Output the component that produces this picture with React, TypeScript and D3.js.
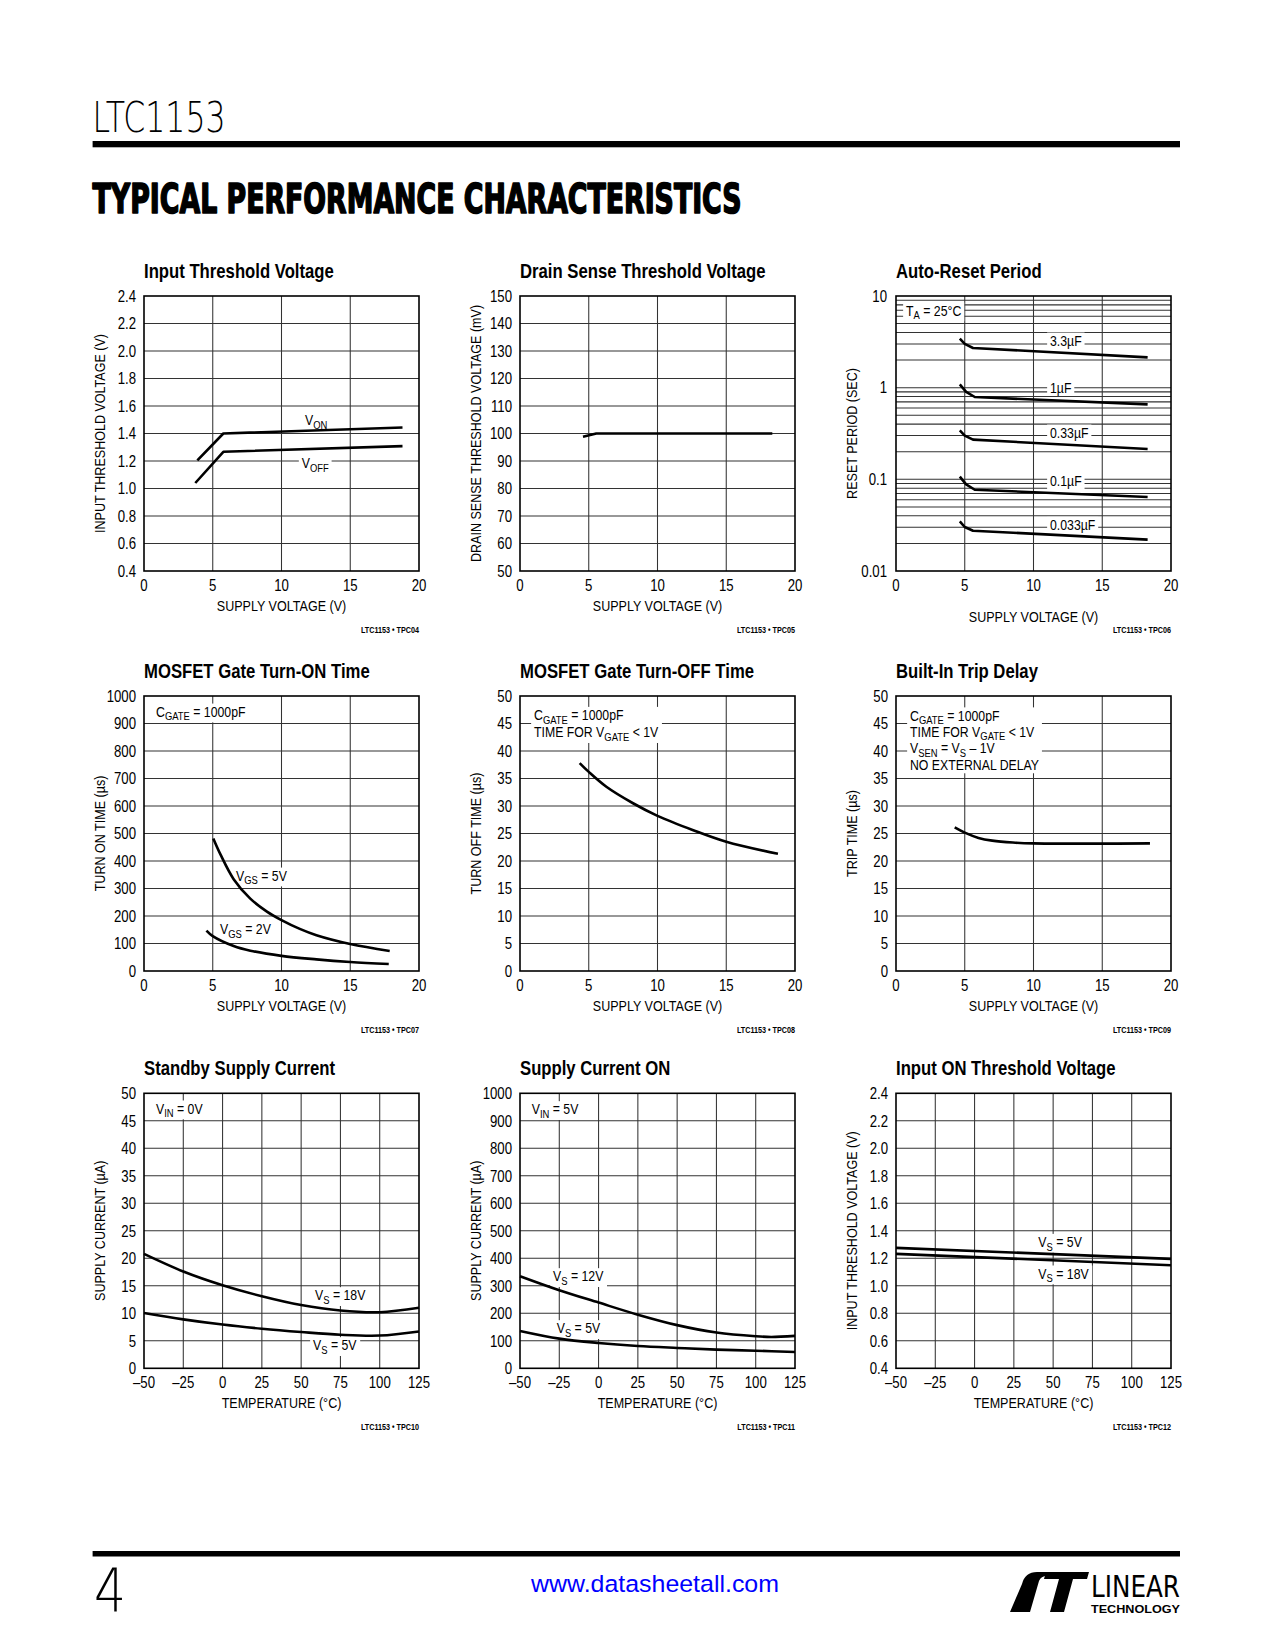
import React, { useLayoutEffect, useRef, useState } from "react";
import * as d3 from "d3";

const SANS = "'Liberation Sans', Arial, Helvetica, sans-serif";
const SX = 0.82; // horizontal condensing (narrow face)

type Pt = [number, number];

// ---------------- DATA ----------------
const supplyTicks = [0, 5, 10, 15, 20];
const supplyLabels = ["0", "5", "10", "15", "20"];
const tempTicks = [-50, -25, 0, 25, 50, 75, 100, 125];
const tempLabels = ["–50", "–25", "0", "25", "50", "75", "100", "125"];

// Input Threshold Voltage
const thrTicks = [0.4, 0.6, 0.8, 1.0, 1.2, 1.4, 1.6, 1.8, 2.0, 2.2, 2.4];
const thrLabels = ["0.4", "0.6", "0.8", "1.0", "1.2", "1.4", "1.6", "1.8", "2.0", "2.2", "2.4"];
const thrVon: Pt[] = [[3.88, 1.205], [5.77, 1.4], [18.8, 1.444]];
const thrVoff: Pt[] = [[3.73, 1.04], [5.77, 1.267], [18.8, 1.308]];

// Drain Sense Threshold Voltage
const drainTicks = [50, 60, 70, 80, 90, 100, 110, 120, 130, 140, 150];
const drainLabels = drainTicks.map(String);
const drainSense: Pt[] = [[4.58, 98.8], [5.55, 100], [18.35, 100]];

// Auto-Reset Period (log)
const resetTicks = [0.01, 0.1, 1, 10];
const resetLabels = ["0.01", "0.1", "1", "10"];
const reset3u3: Pt[] = [[4.64, 3.42], [5.0, 3.0], [5.6, 2.71], [18.3, 2.14]];
const reset1u: Pt[] = [[4.64, 1.087], [5.1, 0.9], [5.73, 0.791], [18.3, 0.658]];
const reset0u33: Pt[] = [[4.64, 0.342], [5.0, 0.3], [5.6, 0.271], [18.3, 0.214]];
const reset0u1: Pt[] = [[4.64, 0.107], [5.1, 0.088], [5.73, 0.077], [18.3, 0.0641]];
const reset0u033: Pt[] = [[4.64, 0.0348], [5.0, 0.0302], [5.6, 0.0275], [18.3, 0.022]];

// MOSFET Gate Turn-ON Time
const onTicks = [0, 100, 200, 300, 400, 500, 600, 700, 800, 900, 1000];
const onLabels = onTicks.map(String);
const turnOn5: Pt[] = [[5.04, 482], [5.56, 424], [6.52, 334], [7.73, 263], [8.94, 216], [10, 185], [11.33, 153], [12.54, 130], [15, 98], [17.87, 73]];
const turnOn2: Pt[] = [[4.54, 147], [5, 127], [6.52, 91], [7.73, 74], [10, 55], [12.54, 42.4], [15, 33], [17.8, 25.5]];

// MOSFET Gate Turn-OFF Time
const offTicks = [0, 5, 10, 15, 20, 25, 30, 35, 40, 45, 50];
const offLabels = offTicks.map(String);
const turnOff: Pt[] = [[4.34, 37.8], [5, 36.2], [6.28, 33.5], [8.22, 30.5], [10, 28.2], [12.6, 25.6], [15, 23.5], [18.76, 21.3]];

// Built-In Trip Delay
const tripDelay: Pt[] = [[4.27, 26.1], [5, 25.15], [6, 24.2], [7, 23.7], [8.5, 23.35], [10, 23.2], [18.47, 23.2]];

// Standby Supply Current
const standby18: Pt[] = [[-50, 20.8], [-25, 17.6], [0, 15.1], [25, 13.1], [50, 11.5], [75, 10.5], [100, 10.2], [125, 11]];
const standby5: Pt[] = [[-50, 10.07], [-25, 8.9], [0, 7.95], [25, 7.2], [50, 6.6], [75, 6.1], [100, 5.95], [125, 6.7]];

// Supply Current ON
const supOn12: Pt[] = [[-50, 335], [-25, 284], [0, 239], [25, 195], [50, 157], [75, 130], [100, 116.5], [110, 114], [125, 118]];
const supOn5: Pt[] = [[-50, 136], [-25, 108], [0, 92], [25, 81], [50, 74], [75, 68], [100, 64], [125, 59.5]];

// Input ON Threshold Voltage
const inOn5: Pt[] = [[-50, 1.276], [125, 1.196]];
const inOn18: Pt[] = [[-50, 1.232], [125, 1.15]];

// ---------------- RENDERING ----------------
interface Ann { x: number; y: number; lines: string[]; bg?: boolean; lh?: number; }
interface Series { pts: Pt[]; smooth?: boolean; }
interface Cfg {
  left: number; top: number; title: string;
  xDomain: [number, number]; xTicks: number[]; xLabels: string[]; xTitle: string; xTitleDy?: number;
  yDomain: [number, number]; yTicks: number[]; yLabels: string[]; yTitle: string; log?: boolean;
  series: Series[]; anns: Ann[]; foot: string;
}

const W = 275, H = 275;
const SUB = 11.5, SUBDY = 3.5;
const TICK = 16.5, TICKSX = 0.8, AXT = 15.3;

function NT(p: { x: number; y: number; size: number; anchor?: string; weight?: any; rotate?: number; sx?: number; children: any; fill?: string }) {
  const rot = p.rotate ? ` rotate(${p.rotate})` : "";
  return (
    <text
      transform={`translate(${p.x},${p.y})${rot} scale(${p.sx ?? SX},1)`}
      textAnchor={p.anchor || "start"}
      fontFamily={SANS}
      fontSize={p.size}
      fontWeight={p.weight || "normal"}
      fill={p.fill || "#000"}
    >
      {p.children}
    </text>
  );
}

function rich(s: string) {
  const parts = s.split(/_\{([^}]*)\}/);
  const out: any[] = [];
  let lowered = false;
  parts.forEach((p, i) => {
    if (i % 2 === 1) {
      out.push(<tspan key={i} fontSize={SUB} dy={SUBDY}>{p}</tspan>);
      lowered = true;
    } else if (p) {
      out.push(<tspan key={i} dy={lowered ? -SUBDY : 0}>{p}</tspan>);
      lowered = false;
    }
  });
  return out;
}

function Label({ a }: { a: Ann }) {
  const ref = useRef<SVGTextElement>(null);
  const [bb, setBb] = useState<any>(null);
  useLayoutEffect(() => {
    if (ref.current) {
      const b = ref.current.getBBox();
      setBb({ x: b.x, y: b.y, w: b.width, h: b.height });
    }
  }, []);
  const lh = a.lh ?? 17;
  return (
    <g transform={`translate(${a.x},${a.y}) scale(${SX},1)`}>
      {a.bg && bb && <rect x={bb.x - 3.5} y={bb.y} width={bb.w + 7} height={bb.h} fill="#fff" />}
      <text ref={ref} fontFamily={SANS} fontSize={15} fill="#000" style={{ whiteSpace: "pre" }}>
        {a.lines.map((ln, i) => (
          <tspan key={i} x={0} y={i * lh}>{rich(ln)}</tspan>
        ))}
      </text>
    </g>
  );
}

function Chart({ c }: { c: Cfg }) {
  const x = d3.scaleLinear().domain(c.xDomain).range([0, W]);
  const y: any = c.log
    ? d3.scaleLog().domain(c.yDomain).range([H, 0])
    : d3.scaleLinear().domain(c.yDomain).range([H, 0]);
  const yGrid: number[] = (c.log ? y.ticks() : c.yTicks).filter(
    (v: number) => Math.abs(v - c.yDomain[0]) > 1e-9 && Math.abs(v - c.yDomain[1]) > 1e-9
  );
  const xGrid = c.xTicks.filter((v) => v !== c.xDomain[0] && v !== c.xDomain[1]);
  const mk = (s: Series) =>
    d3.line<Pt>().x((d) => x(d[0])).y((d) => y(d[1]))
      .curve(s.smooth ? d3.curveCatmullRom.alpha(0.5) : d3.curveLinear)(s.pts) || "";
  return (
    <g transform={`translate(${c.left},${c.top})`}>
      <NT x={0} y={-18} size={21} sx={0.795} weight="bold">{c.title}</NT>
      {yGrid.map((v, i) => (
        <line key={"h" + i} x1={0} x2={W} y1={y(v)} y2={y(v)} stroke="#333" strokeWidth={1.05} />
      ))}
      {xGrid.map((v, i) => (
        <line key={"v" + i} y1={0} y2={H} x1={x(v)} x2={x(v)} stroke="#333" strokeWidth={1.05} />
      ))}
      {c.anns.map((a, i) => <Label key={"a" + i} a={a} />)}
      {c.series.map((s, i) => (
        <path key={"s" + i} d={mk(s)} fill="none" stroke="#000" strokeWidth={2.6} strokeLinejoin="round" />
      ))}
      <rect x={0} y={0} width={W} height={H} fill="none" stroke="#000" strokeWidth={1.6} />
      {c.yTicks.map((v, i) => (
        <NT key={"yl" + i} x={c.log ? -9 : -8} y={y(v) + 5.8} anchor="end" size={TICK} sx={TICKSX}>{c.yLabels[i]}</NT>
      ))}
      {c.xTicks.map((v, i) => (
        <NT key={"xl" + i} x={x(v)} y={H + 19.5} anchor="middle" size={TICK} sx={TICKSX}>{c.xLabels[i]}</NT>
      ))}
      <NT x={W / 2} y={H + (c.xTitleDy ?? 40)} anchor="middle" size={AXT}>{c.xTitle}</NT>
      <NT x={-39} y={H / 2} rotate={-90} anchor="middle" size={AXT}>{c.yTitle}</NT>
      <NT x={W} y={H + 62} anchor="end" size={8.8} weight="bold">{c.foot}</NT>
    </g>
  );
}

const COLS = [144, 520, 896];
const ROWS = [296, 696, 1093.3];

const charts: Cfg[] = [
  {
    left: COLS[0], top: ROWS[0], title: "Input Threshold Voltage",
    xDomain: [0, 20], xTicks: supplyTicks, xLabels: supplyLabels, xTitle: "SUPPLY VOLTAGE (V)",
    yDomain: [0.4, 2.4], yTicks: thrTicks, yLabels: thrLabels, yTitle: "INPUT THRESHOLD VOLTAGE (V)",
    series: [{ pts: thrVon }, { pts: thrVoff }],
    anns: [
      { x: 161, y: 129, lines: ["V_{ON}"] },
      { x: 157.7, y: 172.3, lines: ["V_{OFF}"], bg: true },
    ],
    foot: "LTC1153 • TPC04",
  },
  {
    left: COLS[1], top: ROWS[0], title: "Drain Sense Threshold Voltage",
    xDomain: [0, 20], xTicks: supplyTicks, xLabels: supplyLabels, xTitle: "SUPPLY VOLTAGE (V)",
    yDomain: [50, 150], yTicks: drainTicks, yLabels: drainLabels, yTitle: "DRAIN SENSE THRESHOLD VOLTAGE (mV)",
    series: [{ pts: drainSense }],
    anns: [],
    foot: "LTC1153 • TPC05",
  },
  {
    left: COLS[2], top: ROWS[0], title: "Auto-Reset Period", log: true,
    xDomain: [0, 20], xTicks: supplyTicks, xLabels: supplyLabels, xTitle: "SUPPLY VOLTAGE (V)", xTitleDy: 51,
    yDomain: [0.01, 10], yTicks: resetTicks, yLabels: resetLabels, yTitle: "RESET PERIOD (SEC)",
    series: [{ pts: reset3u3 }, { pts: reset1u }, { pts: reset0u33 }, { pts: reset0u1 }, { pts: reset0u033 }],
    anns: [
      { x: 10, y: 19.7, lines: ["T_{A} = 25°C"], bg: true },
      { x: 154, y: 49.7, lines: ["3.3µF"], bg: true },
      { x: 154, y: 96.7, lines: ["1µF"], bg: true },
      { x: 154, y: 141.7, lines: ["0.33µF"], bg: true },
      { x: 154, y: 190, lines: ["0.1µF"], bg: true },
      { x: 154, y: 234, lines: ["0.033µF"], bg: true },
    ],
    foot: "LTC1153 • TPC06",
  },
  {
    left: COLS[0], top: ROWS[1], title: "MOSFET Gate Turn-ON Time",
    xDomain: [0, 20], xTicks: supplyTicks, xLabels: supplyLabels, xTitle: "SUPPLY VOLTAGE (V)",
    yDomain: [0, 1000], yTicks: onTicks, yLabels: onLabels, yTitle: "TURN ON TIME (µs)",
    series: [{ pts: turnOn5, smooth: true }, { pts: turnOn2, smooth: true }],
    anns: [
      { x: 12, y: 20.7, lines: ["C_{GATE} = 1000pF"], bg: true },
      { x: 92, y: 184.7, lines: ["V_{GS} = 5V"], bg: true },
      { x: 76, y: 238, lines: ["V_{GS} = 2V"], bg: true },
    ],
    foot: "LTC1153 • TPC07",
  },
  {
    left: COLS[1], top: ROWS[1], title: "MOSFET Gate Turn-OFF Time",
    xDomain: [0, 20], xTicks: supplyTicks, xLabels: supplyLabels, xTitle: "SUPPLY VOLTAGE (V)",
    yDomain: [0, 50], yTicks: offTicks, yLabels: offLabels, yTitle: "TURN OFF TIME (µs)",
    series: [{ pts: turnOff, smooth: true }],
    anns: [{ x: 14, y: 24, lines: ["C_{GATE} = 1000pF", "TIME FOR V_{GATE} < 1V"], lh: 17.3, bg: true }],
    foot: "LTC1153 • TPC08",
  },
  {
    left: COLS[2], top: ROWS[1], title: "Built-In Trip Delay",
    xDomain: [0, 20], xTicks: supplyTicks, xLabels: supplyLabels, xTitle: "SUPPLY VOLTAGE (V)",
    yDomain: [0, 50], yTicks: offTicks, yLabels: offLabels, yTitle: "TRIP TIME (µs)",
    series: [{ pts: tripDelay, smooth: true }],
    anns: [{
      x: 14, y: 24.5, lh: 16.5, bg: true,
      lines: ["C_{GATE} = 1000pF", "TIME FOR V_{GATE} < 1V", "V_{SEN} = V_{S} – 1V", "NO EXTERNAL DELAY"],
    }],
    foot: "LTC1153 • TPC09",
  },
  {
    left: COLS[0], top: ROWS[2], title: "Standby Supply Current",
    xDomain: [-50, 125], xTicks: tempTicks, xLabels: tempLabels, xTitle: "TEMPERATURE (°C)",
    yDomain: [0, 50], yTicks: offTicks, yLabels: offLabels, yTitle: "SUPPLY CURRENT (µA)",
    series: [{ pts: standby18, smooth: true }, { pts: standby5, smooth: true }],
    anns: [
      { x: 12, y: 20.3, lines: ["V_{IN} = 0V"], bg: true },
      { x: 171, y: 207, lines: ["V_{S} = 18V"], bg: true },
      { x: 169, y: 257, lines: ["V_{S} = 5V"], bg: true },
    ],
    foot: "LTC1153 • TPC10",
  },
  {
    left: COLS[1], top: ROWS[2], title: "Supply Current ON",
    xDomain: [-50, 125], xTicks: tempTicks, xLabels: tempLabels, xTitle: "TEMPERATURE (°C)",
    yDomain: [0, 1000], yTicks: onTicks, yLabels: onLabels, yTitle: "SUPPLY CURRENT (µA)",
    series: [{ pts: supOn12, smooth: true }, { pts: supOn5, smooth: true }],
    anns: [
      { x: 11.7, y: 21, lines: ["V_{IN} = 5V"], bg: true },
      { x: 33, y: 188, lines: ["V_{S} = 12V"], bg: true },
      { x: 36.7, y: 240, lines: ["V_{S} = 5V"], bg: true },
    ],
    foot: "LTC1153 • TPC11",
  },
  {
    left: COLS[2], top: ROWS[2], title: "Input ON Threshold Voltage",
    xDomain: [-50, 125], xTicks: tempTicks, xLabels: tempLabels, xTitle: "TEMPERATURE (°C)",
    yDomain: [0.4, 2.4], yTicks: thrTicks, yLabels: thrLabels, yTitle: "INPUT THRESHOLD VOLTAGE (V)",
    series: [{ pts: inOn5 }, { pts: inOn18 }],
    anns: [
      { x: 142.3, y: 153.7, lines: ["V_{S} = 5V"], bg: true },
      { x: 142.3, y: 185.3, lines: ["V_{S} = 18V"], bg: true },
    ],
    foot: "LTC1153 • TPC12",
  },
];

function Logo() {
  return (
    <g transform="translate(1010,1572)">
      <path d="M0,40 L20,40 L29,9 Q31,4 37,4 L39,0 L27,0 Q15,0 12,12 Z" fill="#000" />
      <path d="M36,0 L79,0 L77,7 L63,7 L54,40 L40,40 L49,7 L34,7 Z" fill="#000" />
      <text x={81} y={25} fontFamily="'DejaVu Sans Condensed', sans-serif" fontSize={30} textLength={89} lengthAdjust="spacingAndGlyphs" fill="#000">LINEAR</text>
      <text x={81} y={41} fontFamily={SANS} fontWeight="bold" fontSize={11} textLength={89} lengthAdjust="spacingAndGlyphs" fill="#000">TECHNOLOGY</text>
    </g>
  );
}

export default function App() {
  return (
    <svg width={1275} height={1650} viewBox="0 0 1275 1650" style={{ position: "absolute", left: 0, top: 0, background: "#fff" }}>
      <rect x={0} y={0} width={1275} height={1650} fill="#fff" />
      <text x={92.6} y={131.5} fontFamily="'DejaVu Sans', sans-serif" fontWeight={200} fontSize={42} textLength={133} lengthAdjust="spacingAndGlyphs" fill="#000">LTC1153</text>
      <rect x={92.6} y={141} width={1087.4} height={6.3} fill="#000" />
      <text x={92.6} y={212.5} fontFamily="'DejaVu Sans Condensed', 'DejaVu Sans', sans-serif" fontWeight="bold" fontSize={40} textLength={649} lengthAdjust="spacingAndGlyphs" fill="#000" stroke="#000" strokeWidth={1.6} strokeLinejoin="round">TYPICAL PERFORMANCE CHARACTERISTICS</text>
      {charts.map((c, i) => <Chart key={i} c={c} />)}
      <rect x={92.6} y={1551} width={1087.4} height={5.5} fill="#000" />
      <text x={94} y={1612} fontFamily="'DejaVu Sans', sans-serif" fontWeight={200} fontSize={60} textLength={32} lengthAdjust="spacingAndGlyphs" fill="#000">4</text>
      <text x={531} y={1592} fontFamily={SANS} fontSize={24.5} textLength={248} lengthAdjust="spacingAndGlyphs" fill="#0000ff">www.datasheetall.com</text>
      <Logo />
    </svg>
  );
}
